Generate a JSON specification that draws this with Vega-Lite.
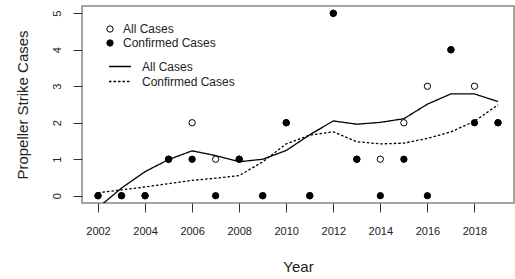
{
  "$schema": "https://vega.github.io/schema/vega-lite/v6.json",
  "autosize": {"type": "none"},
  "padding": {"left": 82, "top": 6, "right": 1, "bottom": 76},
  "width": 432,
  "height": 197,
  "background": "white",
  "config": {
    "font": "Liberation Sans",
    "view": {"stroke": "#888888", "strokeWidth": 1.5},
    "axis": {
      "domain": false,
      "grid": false,
      "tickColor": "#333333",
      "tickSize": 9,
      "tickWidth": 1,
      "labelOverlap": false,
      "labelFont": "Liberation Sans",
      "labelFontSize": 11,
      "labelColor": "#222222",
      "titleFont": "Liberation Sans",
      "titleFontSize": 15,
      "titleFontWeight": "normal",
      "titleColor": "#222222"
    },
    "legend": {
      "labelFont": "Liberation Sans",
      "labelFontSize": 12,
      "labelColor": "#222222",
      "padding": 0,
      "rowPadding": 2
    }
  },
  "datasets": {
    "pts": [
      {"year": 2002, "cases": 0, "type": "All Cases"},
      {"year": 2003, "cases": 0, "type": "All Cases"},
      {"year": 2004, "cases": 0, "type": "All Cases"},
      {"year": 2005, "cases": 1, "type": "All Cases"},
      {"year": 2006, "cases": 2, "type": "All Cases"},
      {"year": 2007, "cases": 1, "type": "All Cases"},
      {"year": 2008, "cases": 1, "type": "All Cases"},
      {"year": 2009, "cases": 0, "type": "All Cases"},
      {"year": 2010, "cases": 2, "type": "All Cases"},
      {"year": 2011, "cases": 0, "type": "All Cases"},
      {"year": 2012, "cases": 5, "type": "All Cases"},
      {"year": 2013, "cases": 1, "type": "All Cases"},
      {"year": 2014, "cases": 1, "type": "All Cases"},
      {"year": 2015, "cases": 2, "type": "All Cases"},
      {"year": 2016, "cases": 3, "type": "All Cases"},
      {"year": 2017, "cases": 4, "type": "All Cases"},
      {"year": 2018, "cases": 3, "type": "All Cases"},
      {"year": 2019, "cases": 2, "type": "All Cases"},
      {"year": 2002, "cases": 0, "type": "Confirmed Cases"},
      {"year": 2003, "cases": 0, "type": "Confirmed Cases"},
      {"year": 2004, "cases": 0, "type": "Confirmed Cases"},
      {"year": 2005, "cases": 1, "type": "Confirmed Cases"},
      {"year": 2006, "cases": 1, "type": "Confirmed Cases"},
      {"year": 2007, "cases": 0, "type": "Confirmed Cases"},
      {"year": 2008, "cases": 1, "type": "Confirmed Cases"},
      {"year": 2009, "cases": 0, "type": "Confirmed Cases"},
      {"year": 2010, "cases": 2, "type": "Confirmed Cases"},
      {"year": 2011, "cases": 0, "type": "Confirmed Cases"},
      {"year": 2012, "cases": 5, "type": "Confirmed Cases"},
      {"year": 2013, "cases": 1, "type": "Confirmed Cases"},
      {"year": 2014, "cases": 0, "type": "Confirmed Cases"},
      {"year": 2015, "cases": 1, "type": "Confirmed Cases"},
      {"year": 2016, "cases": 0, "type": "Confirmed Cases"},
      {"year": 2017, "cases": 4, "type": "Confirmed Cases"},
      {"year": 2018, "cases": 2, "type": "Confirmed Cases"},
      {"year": 2019, "cases": 2, "type": "Confirmed Cases"}
    ],
    "curves": [
      {"year": 2002, "fit": -0.33, "curve": "all"},
      {"year": 2003, "fit": 0.21, "curve": "all"},
      {"year": 2004, "fit": 0.66, "curve": "all"},
      {"year": 2005, "fit": 0.99, "curve": "all"},
      {"year": 2006, "fit": 1.23, "curve": "all"},
      {"year": 2007, "fit": 1.1, "curve": "all"},
      {"year": 2008, "fit": 0.93, "curve": "all"},
      {"year": 2009, "fit": 1.0, "curve": "all"},
      {"year": 2010, "fit": 1.24, "curve": "all"},
      {"year": 2011, "fit": 1.67, "curve": "all"},
      {"year": 2012, "fit": 2.05, "curve": "all"},
      {"year": 2013, "fit": 1.96, "curve": "all"},
      {"year": 2014, "fit": 2.01, "curve": "all"},
      {"year": 2015, "fit": 2.11, "curve": "all"},
      {"year": 2016, "fit": 2.51, "curve": "all"},
      {"year": 2017, "fit": 2.79, "curve": "all"},
      {"year": 2018, "fit": 2.79, "curve": "all"},
      {"year": 2019, "fit": 2.58, "curve": "all"},
      {"year": 2002, "fit": 0.08, "curve": "confirmed"},
      {"year": 2003, "fit": 0.16, "curve": "confirmed"},
      {"year": 2004, "fit": 0.24, "curve": "confirmed"},
      {"year": 2005, "fit": 0.33, "curve": "confirmed"},
      {"year": 2006, "fit": 0.42, "curve": "confirmed"},
      {"year": 2007, "fit": 0.48, "curve": "confirmed"},
      {"year": 2008, "fit": 0.55, "curve": "confirmed"},
      {"year": 2009, "fit": 0.93, "curve": "confirmed"},
      {"year": 2010, "fit": 1.42, "curve": "confirmed"},
      {"year": 2011, "fit": 1.66, "curve": "confirmed"},
      {"year": 2012, "fit": 1.75, "curve": "confirmed"},
      {"year": 2013, "fit": 1.48, "curve": "confirmed"},
      {"year": 2014, "fit": 1.42, "curve": "confirmed"},
      {"year": 2015, "fit": 1.44, "curve": "confirmed"},
      {"year": 2016, "fit": 1.57, "curve": "confirmed"},
      {"year": 2017, "fit": 1.75, "curve": "confirmed"},
      {"year": 2018, "fit": 2.04, "curve": "confirmed"},
      {"year": 2019, "fit": 2.49, "curve": "confirmed"}
    ]
  },
  "layer": [
    {
      "data": {"name": "curves"},
      "mark": {"type": "line", "clip": true, "color": "black", "strokeWidth": 1.3},
      "encoding": {
        "x": {
          "field": "year", "type": "quantitative",
          "scale": {"domain": [2001.32, 2019.68], "nice": false, "zero": false},
          "axis": {"values": [2002, 2004, 2006, 2008, 2010, 2012, 2014, 2016, 2018], "format": "d", "title": "Year", "labelPadding": 13, "titlePadding": 23}
        },
        "y": {
          "field": "fit", "type": "quantitative",
          "scale": {"domain": [-0.2, 5.2], "nice": false, "zero": false},
          "axis": {"values": [0, 1, 2, 3, 4, 5], "tickCount": 6, "labelOverlap": false, "title": "Propeller Strike Cases", "labelAngle": -90, "labelAlign": "center", "labelBaseline": "bottom", "labelPadding": 11, "titlePadding": 21}
        },
        "detail": {"field": "curve"},
        "strokeDash": {
          "field": "curve", "type": "nominal",
          "scale": {"domain": ["all", "confirmed"], "range": [[1, 0], [2.5, 2]]},
          "legend": {
            "title": null, "orient": "none", "legendX": 31.5, "legendY": 54,
            "labelExpr": "datum.value == 'all' ? 'All Cases' : 'Confirmed Cases'",
            "symbolType": "M-2,0H2", "symbolSize": 121, "symbolStrokeColor": "black",
            "symbolStrokeWidth": 1.3, "labelOffset": 15.5, "rowPadding": 2
          }
        }
      }
    },
    {
      "data": {"name": "pts"},
      "mark": {"type": "point", "shape": "circle", "filled": false, "stroke": "black", "strokeWidth": 1, "size": 40, "opacity": 1},
      "encoding": {
        "x": {"field": "year", "type": "quantitative",
          "axis": {"values": [2002, 2004, 2006, 2008, 2010, 2012, 2014, 2016, 2018], "format": "d", "title": "Year", "labelPadding": 13, "titlePadding": 23}
        },
        "y": {"field": "cases", "type": "quantitative",
          "axis": {"values": [0, 1, 2, 3, 4, 5], "tickCount": 6, "labelOverlap": false, "title": "Propeller Strike Cases", "labelAngle": -90, "labelAlign": "center", "labelBaseline": "bottom", "labelPadding": 11, "titlePadding": 21}
        },
        "fill": {
          "field": "type", "type": "nominal",
          "scale": {"domain": ["All Cases", "Confirmed Cases"], "range": ["white", "black"]},
          "legend": {
            "title": null, "orient": "none", "legendX": 22, "legendY": 17,
            "symbolType": "circle", "symbolSize": 40, "symbolStrokeColor": "black",
            "symbolStrokeWidth": 1, "labelOffset": 7, "symbolOpacity": 1
          }
        }
      }
    }
  ]
}
